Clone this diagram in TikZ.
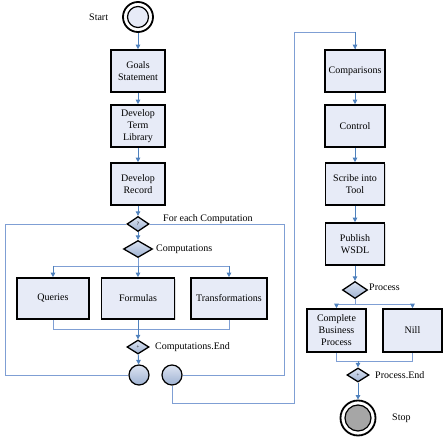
\documentclass[tikz,border=0pt]{standalone}
\usepackage{fontspec}
\setmainfont{Liberation Serif}
\usetikzlibrary{shapes.geometric,arrows.meta,shadows}
\definecolor{boxfill}{HTML}{E7EBF7}
\definecolor{flow}{HTML}{4F81BD}
\definecolor{loopc}{HTML}{7F9FD4}
\definecolor{gatetop}{HTML}{DCE4F2}
\definecolor{gatebot}{HTML}{9FB2D2}
\definecolor{stopgray}{HTML}{A6A6A6}
\begin{document}
\begin{tikzpicture}[x=1pt,y=-1pt,
  every node/.style={font=\fontsize{10}{12}\selectfont},
  task/.style={draw=black,line width=1.6pt,fill=boxfill,align=center,inner sep=0pt,
    drop shadow={opacity=0.25,shadow xshift=1.2pt,shadow yshift=-1.2pt}},
  gate/.style={diamond,draw=black,line width=1.3pt,top color=gatetop,bottom color=gatebot,
    inner sep=0pt,font=\fontsize{5}{6}\selectfont},
  joint/.style={circle,draw=black,line width=1.2pt,top color=gatetop,bottom color=gatebot,
    minimum size=20pt,inner sep=0pt},
  arr/.style={draw=flow,line width=0.9pt,-{Triangle[width=4.5pt,length=4.5pt]}},
  ln/.style={draw=loopc,line width=0.9pt},
  lbl/.style={anchor=west,inner sep=0pt}]
\useasboundingbox (0,0) rectangle (445,441);

% left column
\node[circle,draw=black,line width=1.8pt,fill=white,minimum size=30pt,inner sep=0pt] (start) at (138,17) {};
\node[circle,draw=black,line width=1.2pt,fill=boxfill,minimum size=21pt,inner sep=0pt] (startin) at (start.center) {};
\node[lbl] (startl) at (89,17) {Start};

\node[task,minimum width=54pt,minimum height=42pt] (goals) at (138,71) {Goals\\Statement};
\node[task,minimum width=54pt,minimum height=42pt] (term) at (138,126) {Develop\\Term\\Library};
\node[task,minimum width=54pt,minimum height=42pt] (record) at (138,184) {Develop\\Record};

\node[gate,minimum width=22pt,minimum height=15pt] (q) at (138,224) {?};
\node[lbl] (ql) at (163,219) {For each Computation};
\node[gate,minimum width=29pt,minimum height=17pt] (comp) at (138,249) {};
\node[lbl] (compl) at (156,249) {Computations};

\coordinate (brk) at (0,266);
\node[task,minimum width=72pt,minimum height=41pt] (queries) at (53,298.5) {Queries};
\node[task,minimum width=73pt,minimum height=41pt] (formulas) at (138,298.5) {Formulas};
\node[task,minimum width=76pt,minimum height=41pt] (trans) at (229,298.5) {Transformations};
\coordinate (mrg) at (0,329);

\node[gate,minimum width=22pt,minimum height=14pt] (cend) at (138,347) {+};
\node[lbl] (cendl) at (155,347) {Computations.End};

\node[joint] (c1) at (139,375) {};
\node[joint] (c2) at (172,375) {};

% right column
\node[task,minimum width=60pt,minimum height=42pt] (cmp) at (355,71) {Comparisons};
\node[task,minimum width=60pt,minimum height=42pt] (control) at (355,126) {Control};
\node[task,minimum width=59pt,minimum height=42pt] (scribe) at (355,184) {Scribe into\\Tool};
\node[task,minimum width=59pt,minimum height=42pt] (publish) at (355,244) {Publish\\WSDL};

\node[gate,minimum width=25pt,minimum height=17pt] (proc) at (355,290) {};
\node[lbl] (procl) at (369,287) {Process};
\coordinate (brk2) at (0,304);
\node[task,minimum width=59pt,minimum height=43pt] (cbp) at (336.5,330.5) {Complete\\Business\\Process};
\node[task,minimum width=59pt,minimum height=43pt] (nill) at (412.5,330.5) {Nill};
\coordinate (mrg2) at (358,361);

\node[gate,minimum width=22pt,minimum height=14pt] (pend) at (358,375) {+};
\node[lbl] (pendl) at (375,375) {Process.End};

\node[circle,draw=black,line width=1.8pt,fill=white,minimum size=35pt,inner sep=0pt] (stop) at (358,418) {};
\node[circle,draw=black,line width=1.2pt,fill=stopgray,minimum size=26pt,inner sep=0pt] (stopin) at (stop.center) {};
\node[lbl] (stopl) at (392,418) {Stop};

% connectors left
\draw[arr] (start) -- (goals);
\draw[arr] (goals) -- (term);
\draw[arr] (term) -- (record);
\draw[arr] (record) -- (q);
\draw[arr] (q) -- (comp);
\draw[ln] (comp.south) -- (comp.south |- brk);
\draw[ln] (queries.north |- brk) -- (trans.north |- brk);
\draw[arr] (queries.north |- brk) -- (queries.north);
\draw[arr] (formulas.north |- brk) -- (formulas.north);
\draw[arr] (trans.north |- brk) -- (trans.north);
\draw[ln] (queries.south) -- (queries.south |- mrg) -- (trans.south |- mrg) -- (trans.south);
\draw[arr] (formulas.south) -- (cend.north);
\draw[arr] (cend) -- (c1);

\coordinate (lx) at (5,0);
\coordinate (rx) at (284,0);
\draw[ln] (q.west) -- (q.west -| lx) -- (c1.west -| lx) -- (c1.west);
\draw[ln] (q.east) -- (q.east -| rx) -- (c2.east -| rx) -- (c2.east);

\coordinate (bx) at (294,403);
\coordinate (tx) at (294,32);
\draw[ln] (c2.south) |- (bx) -- (tx) -| (cmp.north);
\draw[arr] (cmp.north |- tx) -- (cmp.north);

% connectors right
\draw[arr] (cmp) -- (control);
\draw[arr] (control) -- (scribe);
\draw[arr] (scribe) -- (publish);
\draw[arr] (publish) -- (proc);
\draw[ln] (proc.south) -- (proc.south |- brk2);
\draw[ln] (cbp.north |- brk2) -- (nill.north |- brk2);
\draw[arr] (cbp.north |- brk2) -- (cbp.north);
\draw[arr] (nill.north |- brk2) -- (nill.north);
\draw[ln] (cbp.south) -- (cbp.south |- mrg2) -- (nill.south |- mrg2) -- (nill.south);
\draw[arr] (mrg2) -- (pend.north);
\draw[arr] (pend) -- (stop);
\end{tikzpicture}
\end{document}
